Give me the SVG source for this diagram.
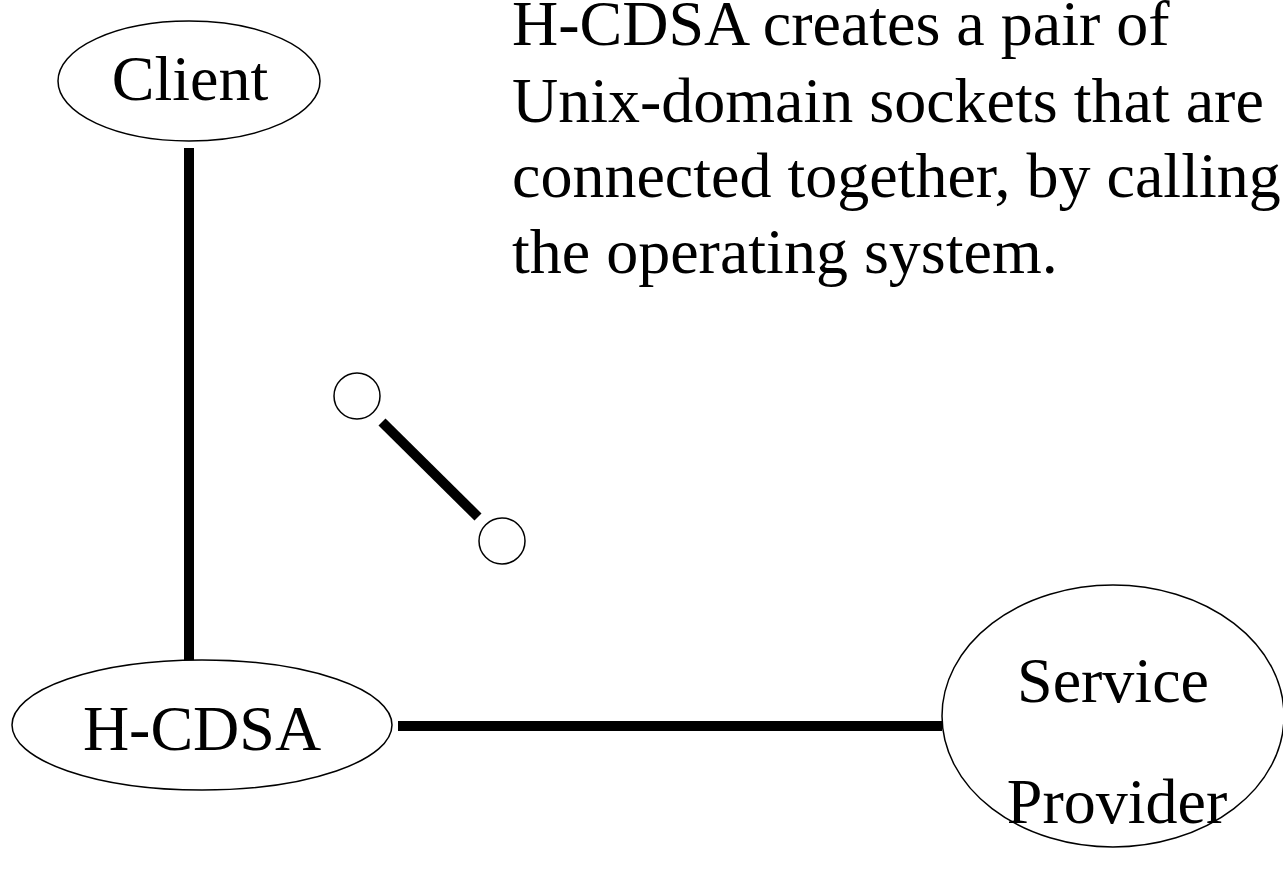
<svg xmlns="http://www.w3.org/2000/svg" width="1283" height="879" viewBox="0 0 1283 879">
<style>
.node{fill:#fff;stroke:#000;stroke-width:1.5}
.lbl{font-family:"Liberation Serif","Times New Roman",serif;font-size:64px;fill:#000;text-anchor:middle}
.para{font-family:"Liberation Serif","Times New Roman",serif;font-size:64px;fill:#000}
.conn{stroke:#000;stroke-width:10;fill:none}
</style>
<rect width="1283" height="879" fill="#fff"/>
<g id="connectors">
<line class="conn" x1="189" y1="148" x2="189" y2="661"/>
<line class="conn" x1="398" y1="726" x2="942" y2="726"/>
<line class="conn" x1="382" y1="422" x2="478" y2="517"/>
</g>
<g id="client">
<ellipse class="node" cx="189" cy="81" rx="131" ry="60"/>
<text class="lbl" x="190" y="100">Client</text>
</g>
<g id="hcdsa">
<ellipse class="node" cx="202" cy="725" rx="190" ry="65"/>
<text class="lbl" x="202" y="750">H-CDSA</text>
</g>
<g id="service-provider">
<ellipse class="node" cx="1113" cy="716" rx="171" ry="131"/>
<text class="lbl" x="1113" y="702">Service</text>
<text class="lbl" x="1117" y="823">Provider</text>
</g>
<g id="socket-a">
<circle class="node" cx="357" cy="396" r="23"/>
</g>
<g id="socket-b">
<circle class="node" cx="502" cy="541" r="23"/>
</g>
<g id="caption">
<text class="para" x="512" y="45">H-CDSA creates a pair of</text>
<text class="para" x="512" y="122">Unix-domain sockets that are</text>
<text class="para" x="512" y="197">connected together, by calling</text>
<text class="para" x="512" y="273">the operating system.</text>
</g>
</svg>
